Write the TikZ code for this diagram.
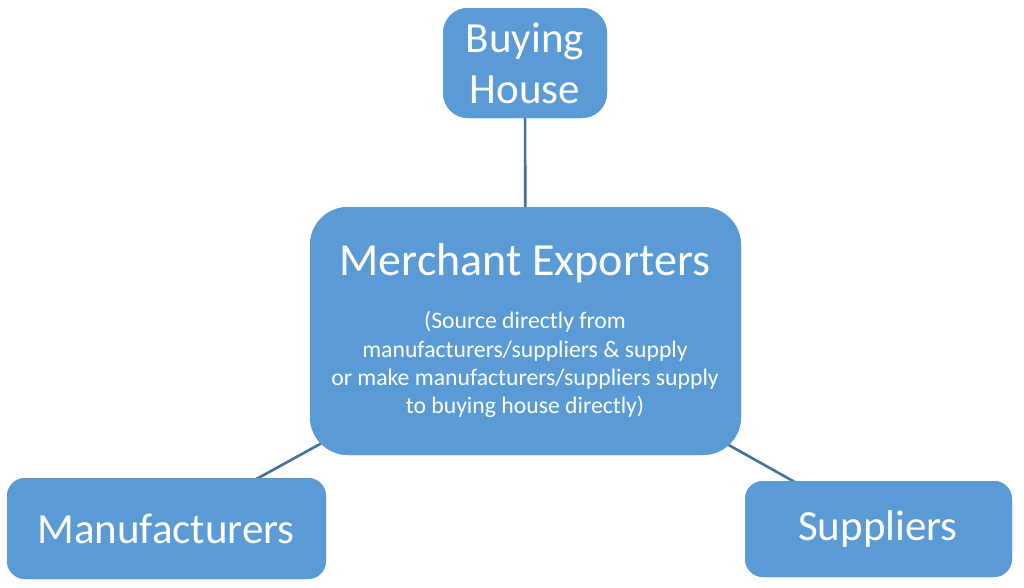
\documentclass[tikz,border=0pt]{standalone}
\usepackage{fontspec}
\setmainfont{Carlito}
\definecolor{boxblue}{HTML}{5B9BD5}
\definecolor{lineblue}{HTML}{41719C}
\tikzset{
  box/.style={draw=none, fill=boxblue, rectangle, inner sep=0pt},
  big/.style={text=white, inner sep=0pt, anchor=base, font=\fontsize{43}{50}\selectfont},
  title/.style={text=white, inner sep=0pt, anchor=base, font=\fontsize{46}{52}\selectfont},
  small/.style={text=white, inner sep=0pt, anchor=base, font=\fontsize{23.7}{28}\selectfont},
  link/.style={draw=lineblue, line width=2.6pt}
}
\begin{document}
\begin{tikzpicture}[x=1pt,y=-1pt]
\useasboundingbox (0,0) rectangle (1024,587);
\node[box, minimum width=164pt, minimum height=110pt, rounded corners=25pt] (bh) at (525,63) {};
\node[box, minimum width=431pt, minimum height=248pt, rounded corners=38pt] (me) at (525.5,331) {};
\node[box, minimum width=319pt, minimum height=101pt, rounded corners=18pt] (mf) at (166.5,528.5) {};
\node[box, minimum width=267pt, minimum height=96pt, rounded corners=18pt] (su) at (878.5,529) {};
\draw[link] (bh.center) -- (me.center);
\draw[link] (mf.center) -- (me.center);
\draw[link] (su.center) -- (me.center);
% redraw boxes over the connector ends
\node[box, minimum width=164pt, minimum height=110pt, rounded corners=25pt] (bhf) at (525,63) {};
\node[box, minimum width=431pt, minimum height=248pt, rounded corners=38pt] (mef) at (525.5,331) {};
\node[box, minimum width=319pt, minimum height=101pt, rounded corners=18pt] (mff) at (166.5,528.5) {};
\node[box, minimum width=267pt, minimum height=96pt, rounded corners=18pt] (suf) at (878.5,529) {};
\node[big] (t1) at (525,52) {Buying};
\node[big] (t2) at (525,103) {House};
\node[title] (t3) at (525,275) {Merchant Exporters};
\node[small] (s1) at (525,328) {(Source directly from};
\node[small] (s2) at (525,357) {manufacturers/suppliers \& supply};
\node[small] (s3) at (525,385) {or make manufacturers/suppliers supply};
\node[small] (s4) at (525,413) {to buying house directly)};
\node[big] (t4) at (166,543) {Manufacturers};
\node[big] (t5) at (878,540) {Suppliers};
\end{tikzpicture}
\end{document}
